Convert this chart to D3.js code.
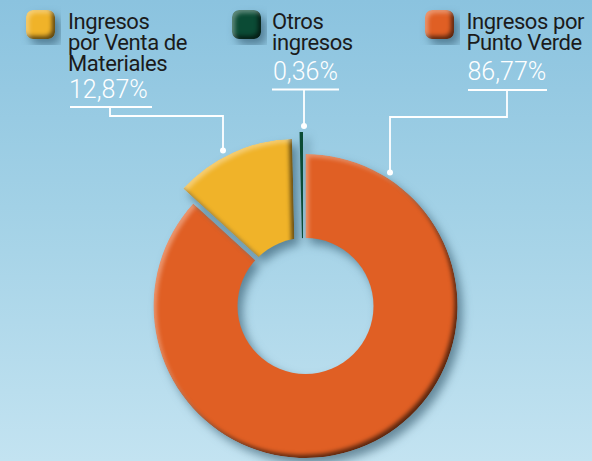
<!DOCTYPE html>
<html><head><meta charset="utf-8">
<script src="https://cdn.jsdelivr.net/npm/d3@7"></script>
<style>html,body{margin:0;padding:0;overflow:hidden;background:#a6d4e8}svg{display:block}</style>
</head><body>
<svg id="chart" width="592" height="461"></svg>
<script>
// ---- data ----
const categories = ["Ingresos por Venta de Materiales", "Otros ingresos", "Ingresos por Punto Verde"];
const labelLines = [["Ingresos", "por Venta de", "Materiales"], ["Otros", "ingresos"], ["Ingresos por", "Punto Verde"]];
const values = [12.87, 0.36, 86.77];
const valueLabels = ["12,87%", "0,36%", "86,77%"];
const colors = ["#f0b329", "#0b4b35", "#e05f24"];

// ---- layout ----
const W = 592, H = 461;
const cx = 305.5, cy = 306, R = 152, holeR = 68;
const explode = [[-10, -15], [-2.5, -22], [0, 0]];
const legendX = [26, 232, 425], legendY = 10, iconSize = 29;
const textX = [68, 272, 466.5];
const lineBase = 28.5, lineStep = 21;
const pctBase = [97.7, 80, 80];
const ulY = [107, 89.5, 90];
const ulX = [[70, 152], [272, 339], [468, 547]];
const stemX = [110, 304, 507];
const elbowY = [116, null, 117];
const dotX = [223, 304, 390];
const dotGap = 6;

const svg = d3.select("#chart");
const defs = svg.append("defs");

const bg = defs.append("linearGradient").attr("id", "bg").attr("x1", 0).attr("y1", 0).attr("x2", 0).attr("y2", 1);
bg.append("stop").attr("offset", 0).attr("stop-color", "#8bc3df");
bg.append("stop").attr("offset", 0.45).attr("stop-color", "#a2d1e6");
bg.append("stop").attr("offset", 1).attr("stop-color", "#c3e3f1");

defs.append("filter").attr("id", "bevel").attr("x", "-10%").attr("y", "-10%").attr("width", "120%").attr("height", "120%")
  .attr("color-interpolation-filters", "sRGB")
  .html(`
  <feGaussianBlur in="SourceAlpha" stdDeviation="2.2" result="b"/>
  <feOffset in="b" dx="-3" dy="-3" result="bUL"/>
  <feComposite in="SourceAlpha" in2="bUL" operator="arithmetic" k2="1" k3="-1" result="edgeBR"/>
  <feFlood flood-color="#000000" flood-opacity="0.6"/>
  <feComposite in2="edgeBR" operator="in" result="dark"/>
  <feOffset in="b" dx="3" dy="3" result="bDR"/>
  <feComposite in="SourceAlpha" in2="bDR" operator="arithmetic" k2="1" k3="-1" result="edgeTL"/>
  <feFlood flood-color="#ffffff" flood-opacity="0.35"/>
  <feComposite in2="edgeTL" operator="in" result="light"/>
  <feMerge><feMergeNode in="SourceGraphic"/><feMergeNode in="dark"/><feMergeNode in="light"/></feMerge>
  <feComposite in2="SourceAlpha" operator="in"/>`);

defs.append("filter").attr("id", "shadow").attr("x", "-20%").attr("y", "-20%").attr("width", "140%").attr("height", "140%")
  .attr("color-interpolation-filters", "sRGB")
  .html(`<feDropShadow dx="5" dy="6" stdDeviation="5" flood-color="#1f4458" flood-opacity="0.55"/>`);

const mask = defs.append("mask").attr("id", "hole").attr("maskUnits", "userSpaceOnUse")
  .attr("x", 0).attr("y", 0).attr("width", W).attr("height", H);
mask.append("rect").attr("width", W).attr("height", H).attr("fill", "#fff");
mask.append("circle").attr("cx", cx).attr("cy", cy).attr("r", holeR).attr("fill", "#000");

svg.append("rect").attr("width", W).attr("height", H).attr("fill", "url(#bg)");

// ---- donut ----
const data = values.map((v, i) => ({ i, value: v }));
const pie = d3.pie().value(d => d.value).sortValues(d3.descending);
const arcs = pie(data);
const arc = d3.arc().innerRadius(30).outerRadius(R);

const gShadow = svg.append("g").attr("filter", "url(#shadow)");
const gMask = gShadow.append("g").attr("mask", "url(#hole)");
gMask.selectAll("path").data(arcs).join("path")
  .attr("transform", d => `translate(${cx + explode[d.data.i][0]},${cy + explode[d.data.i][1]})`)
  .attr("d", arc)
  .attr("fill", d => colors[d.data.i])
  .attr("filter", d => (d.endAngle - d.startAngle) > 0.1 ? "url(#bevel)" : null);

// ---- legend ----
const leg = svg.append("g");
categories.forEach((c, i) => {
  leg.append("g").attr("filter", "url(#shadow)")
    .append("rect").attr("x", legendX[i]).attr("y", legendY)
    .attr("width", iconSize).attr("height", iconSize).attr("rx", 7)
    .attr("fill", colors[i]).attr("filter", "url(#bevel)");
  const t = leg.append("text").attr("font-family", "Roboto, 'DejaVu Sans', sans-serif")
    .attr("font-size", 22).attr("letter-spacing", -0.4).attr("fill", "#1b1b1b");
  labelLines[i].forEach((ln, k) => {
    t.append("tspan").attr("x", textX[i]).attr("y", lineBase + k * lineStep).text(ln);
  });
  leg.append("text").attr("x", textX[i] + 1).attr("y", pctBase[i])
    .attr("font-family", "Roboto, 'DejaVu Sans', sans-serif").attr("font-weight", 300)
    .attr("font-size", 25).attr("fill", "#ffffff").text(valueLabels[i]);
});

// ---- leader lines ----
const lead = svg.append("g").attr("stroke", "#fff").attr("stroke-width", 1.8).attr("fill", "none");
categories.forEach((c, i) => {
  const ox = cx + explode[i][0], oy = cy + explode[i][1];
  const dx = dotX[i] - ox;
  const dy = oy - Math.sqrt((R + dotGap) ** 2 - dx * dx);
  lead.append("line").attr("x1", ulX[i][0]).attr("x2", ulX[i][1]).attr("y1", ulY[i]).attr("y2", ulY[i]);
  let p = `M${stemX[i]},${ulY[i]}`;
  if (elbowY[i] != null) p += `V${elbowY[i]}H${dotX[i]}`;
  p += `V${dy}`;
  lead.append("path").attr("d", p);
  svg.append("circle").attr("cx", dotX[i]).attr("cy", dy).attr("r", 3).attr("fill", "#fff");
});
</script>
</body></html>
